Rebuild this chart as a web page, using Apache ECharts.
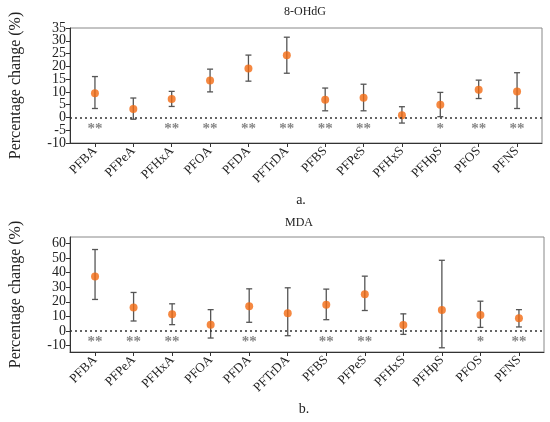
<!DOCTYPE html>
<html>
<head>
<meta charset="utf-8">
<script src="https://cdn.jsdelivr.net/npm/echarts@6/dist/echarts.min.js"></script>
<style>
  html, body { margin: 0; padding: 0; background: #fff; }
  #main { width: 550px; height: 422px; }
</style>
</head>
<body>
<div id="main"></div>
<script>
// compounds on the x axis (same for both panels)
var categories = ['PFBA', 'PFPeA', 'PFHxA', 'PFOA', 'PFDA', 'PFTrDA', 'PFBS', 'PFPeS', 'PFHxS', 'PFHpS', 'PFOS', 'PFNS'];

// panel a: 8-OHdG
var ohdgMean  = [9.5, 3.3, 7.2, 14.5, 19.2, 24.3, 6.9, 7.7, 0.9, 5.0, 10.8, 10.2];
var ohdgLow   = [3.5, -0.7, 4.3, 10.0, 14.2, 17.3, 2.6, 2.6, -2.2, 0.3, 7.4, 3.5];
var ohdgHigh  = [16.0, 7.6, 10.2, 18.9, 24.4, 31.4, 11.5, 13.0, 4.2, 9.8, 14.6, 17.5];
var ohdgStars = ['**', '', '**', '**', '**', '**', '**', '**', '', '*', '**', '**'];
var ohdgTicks = [-10, -5, 0, 5, 10, 15, 20, 25, 30, 35];

// panel b: MDA
var mdaMean  = [37.4, 16.0, 11.4, 4.3, 16.9, 12.1, 17.9, 25.2, 4.1, 14.4, 11.0, 8.7];
var mdaLow   = [21.6, 6.8, 4.3, -4.9, 5.9, -3.3, 7.7, 14.0, -2.4, -11.6, 2.4, 2.7];
var mdaHigh  = [55.9, 26.4, 18.6, 14.6, 28.9, 29.6, 28.7, 37.6, 11.7, 48.5, 20.4, 14.6];
var mdaStars = ['**', '**', '**', '', '**', '', '**', '**', '', '', '*', '**'];
var mdaTicks = [-10, 0, 10, 20, 30, 40, 50, 60];

var idx = categories.map(function (c, i) { return i; });
var serif = 'Liberation Serif';

var chart = echarts.init(document.getElementById('main'));

function xAxisFor(gridIndex) {
  return {
    gridIndex: gridIndex,
    type: 'value',
    position: 'bottom',
    min: -0.65,
    max: 11.65,
    splitLine: { show: false },
    axisLine: { show: true, onZero: false, lineStyle: { color: '#333' } },
    axisTick: { show: true, customValues: idx, length: 4, lineStyle: { color: '#333' } },
    axisLabel: {
      customValues: idx,
      rotate: 45,
      fontFamily: serif,
      fontSize: 13,
      color: '#222',
      margin: 6,
      formatter: function (v) { return categories[Math.round(v)]; }
    }
  };
}

function yAxisFor(gridIndex, min, max, ticks, withName) {
  return {
    gridIndex: gridIndex,
    type: 'value',
    position: 'left',
    offset: 0,
    min: min,
    max: max,
    name: withName ? 'Percentage change (%)' : '',
    nameLocation: 'middle',
    nameGap: 46,
    nameTextStyle: { fontFamily: serif, fontSize: 16, color: '#222' },
    splitLine: { show: false },
    axisLine: { show: withName, onZero: false, lineStyle: { color: '#333' } },
    axisTick: { show: true, customValues: ticks, length: 4, lineStyle: { color: '#333' } },
    axisLabel: {
      customValues: ticks,
      showMinLabel: true,
      showMaxLabel: true,
      fontFamily: serif,
      fontSize: 14,
      color: '#222',
      margin: 4
    }
  };
}

// the 8-OHdG ticks are too dense for one label pass, so they are shared by two stacked axes
var ohdgTicksA = ohdgTicks.filter(function (v, i) { return i % 2 === 0; });
var ohdgTicksB = ohdgTicks.filter(function (v, i) { return i % 2 === 1; });

function errorBars(gridIndex, low, high) {
  return {
    type: 'custom',
    xAxisIndex: gridIndex,
    yAxisIndex: gridIndex,
    data: idx.map(function (i) { return [i, low[i], high[i]]; }),
    renderItem: function (params, api) {
      var lo = api.coord([api.value(0), api.value(1)]);
      var hi = api.coord([api.value(0), api.value(2)]);
      var w = 3;
      var style = { stroke: '#555', lineWidth: 1.3 };
      return {
        type: 'group',
        children: [
          { type: 'line', shape: { x1: hi[0], y1: hi[1], x2: lo[0], y2: lo[1] }, style: style },
          { type: 'line', shape: { x1: hi[0] - w, y1: hi[1], x2: hi[0] + w, y2: hi[1] }, style: style },
          { type: 'line', shape: { x1: lo[0] - w, y1: lo[1], x2: lo[0] + w, y2: lo[1] }, style: style }
        ]
      };
    },
    z: 3
  };
}

function points(gridIndex, mean) {
  return {
    type: 'scatter',
    xAxisIndex: gridIndex,
    yAxisIndex: gridIndex,
    symbolSize: 8,
    itemStyle: { color: '#f36a12' },
    data: idx.map(function (i) { return [i, mean[i]]; }),
    markLine: {
      silent: true,
      symbol: 'none',
      label: { show: false },
      lineStyle: { color: '#333', type: [2, 3], width: 1.5 },
      data: [{ yAxis: 0 }]
    },
    z: 4
  };
}

function stars(gridIndex, marks, yPos) {
  return {
    type: 'scatter',
    xAxisIndex: gridIndex,
    yAxisIndex: gridIndex,
    symbolSize: 0,
    data: idx.map(function (i) { return { value: [i, yPos], txt: marks[i] }; }),
    label: {
      show: true,
      position: 'inside',
      fontFamily: serif,
      fontSize: 15,
      fontWeight: 'bold',
      color: '#666',
      formatter: function (p) { return p.data.txt; }
    },
    z: 2
  };
}

chart.setOption({
  animation: false,
  title: [
    { text: '8-OHdG', left: 300, top: 1, textAlign: 'center', textStyle: { fontFamily: serif, fontSize: 12, fontWeight: 'normal', color: '#222' } },
    { text: 'a.', left: 296, top: 188, textAlign: 'center', textStyle: { fontFamily: serif, fontSize: 14, fontWeight: 'normal', color: '#222' } },
    { text: 'MDA', left: 294, top: 212, textAlign: 'center', textStyle: { fontFamily: serif, fontSize: 12, fontWeight: 'normal', color: '#222' } },
    { text: 'b.', left: 299, top: 397, textAlign: 'center', textStyle: { fontFamily: serif, fontSize: 14, fontWeight: 'normal', color: '#222' } }
  ],
  grid: [
    { left: 67, right: 8, top: 28, height: 115, show: true, borderColor: '#888', borderWidth: 1 },
    { left: 66, right: 6, top: 237, height: 115, show: true, borderColor: '#888', borderWidth: 1 }
  ],
  xAxis: [xAxisFor(0), xAxisFor(1)],
  yAxis: [
    yAxisFor(0, -10, 35, ohdgTicksA, true),
    yAxisFor(1, -14.5, 64.5, mdaTicks, true),
    yAxisFor(0, -10, 35, ohdgTicksB, false)
  ],
  series: [
    errorBars(0, ohdgLow, ohdgHigh),
    points(0, ohdgMean),
    stars(0, ohdgStars, -4.5),
    errorBars(1, mdaLow, mdaHigh),
    points(1, mdaMean),
    stars(1, mdaStars, -7.5)
  ]
});
</script>
</body>
</html>
